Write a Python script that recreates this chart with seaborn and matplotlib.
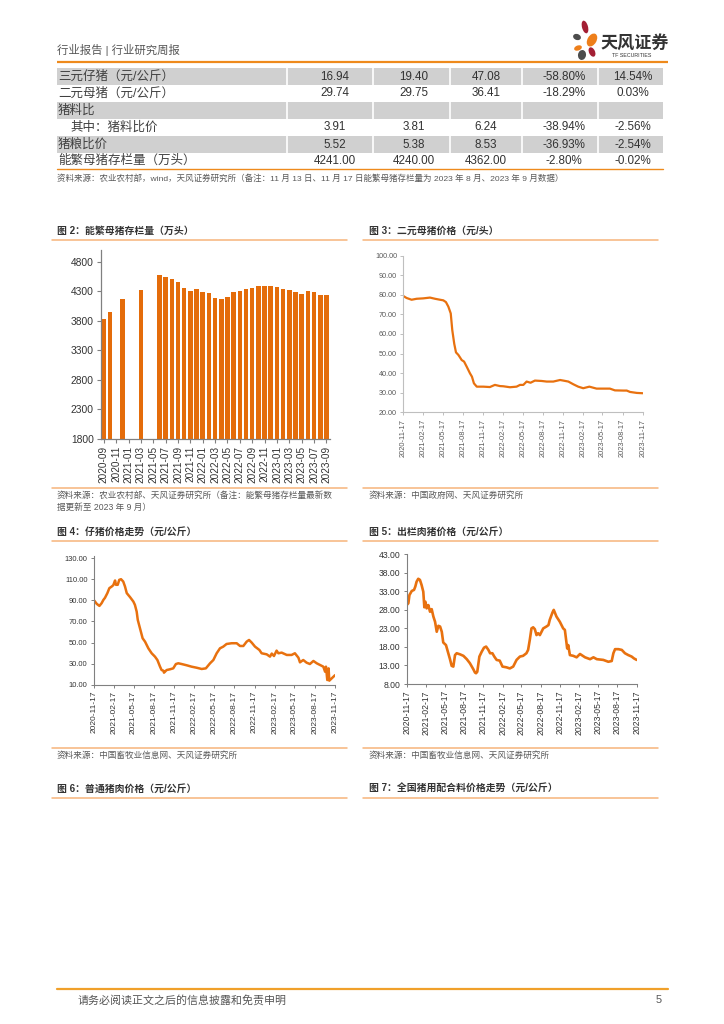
import numpy as np
import pandas as pd
import matplotlib
matplotlib.use('Agg')
import matplotlib.pyplot as plt
import seaborn as sns
from matplotlib.patches import Ellipse, Rectangle

# ---------------- data ----------------
table_labels = ['三元仔猪（元/公斤）', '二元母猪（元/公斤）', '猪料比', '其中：猪料比价', '猪粮比价', '能繁母猪存栏量（万头）']
col_cur = ['16.94', '29.74', '', '3.91', '5.52', '4241.00']
col_prev = ['19.40', '29.75', '', '3.81', '5.38', '4240.00']
col_ly = ['47.08', '36.41', '', '6.24', '8.53', '4362.00']
col_yoy = ['-58.80%', '-18.29%', '', '-38.94%', '-36.93%', '-2.80%']
col_mom = ['14.54%', '0.03%', '', '-2.56%', '-2.54%', '-0.02%']

months = ['2020-09', '2020-10', '2020-11', '2020-12', '2021-01', '2021-02', '2021-03', '2021-04',
          '2021-05', '2021-06', '2021-07', '2021-08', '2021-09', '2021-10', '2021-11', '2021-12',
          '2022-01', '2022-02', '2022-03', '2022-04', '2022-05', '2022-06', '2022-07', '2022-08',
          '2022-09', '2022-10', '2022-11', '2022-12', '2023-01', '2023-02', '2023-03', '2023-04',
          '2023-05', '2023-06', '2023-07', '2023-08', '2023-09']
sow_stock = [3832, 3950, np.nan, 4170, np.nan, np.nan, 4327, np.nan, np.nan, 4573, 4538, 4509,
             4459, 4357, 4306, 4329, 4289, 4272, 4187, 4176, 4199, 4278, 4306, 4334, 4362, 4385,
             4391, 4391, 4363, 4340, 4312, 4283, 4261, 4306, 4278, 4241, 4240]
bar_xlabels = months[::2]
bar_yticks = [1800, 2300, 2800, 3300, 3800, 4300, 4800]

sow_price_dates = ['2020-11-17', '2020-12-02', '2020-12-25', '2021-01-17', '2021-02-16', '2021-03-19',
                   '2021-04-11', '2021-05-04', '2021-05-19', '2021-05-31', '2021-06-11', '2021-06-22',
                   '2021-06-29', '2021-07-08', '2021-07-16', '2021-07-27', '2021-08-11', '2021-08-22',
                   '2021-09-03', '2021-09-18', '2021-09-27', '2021-10-06', '2021-10-19', '2021-11-18',
                   '2021-12-18', '2022-01-10', '2022-02-02', '2022-02-17', '2022-03-20', '2022-04-19',
                   '2022-05-05', '2022-05-20', '2022-06-04', '2022-06-22', '2022-07-12', '2022-08-12',
                   '2022-09-04', '2022-10-04', '2022-11-04', '2022-11-19', '2022-12-12', '2023-01-04',
                   '2023-01-26', '2023-02-18', '2023-03-18', '2023-04-20', '2023-05-21', '2023-06-20',
                   '2023-07-13', '2023-08-21', '2023-09-05', '2023-09-20', '2023-10-21', '2023-11-17']
sow_price = [79.4, 78.4, 77.5, 78.0, 78.2, 78.6, 78.0, 77.5, 77.2, 76.3, 74.0, 70.5, 62.0, 55.0, 50.6,
             49.3, 46.7, 45.9, 43.3, 39.9, 38.2, 34.8, 33.1, 33.1, 32.9, 34.0, 33.4, 33.3, 32.8, 33.1,
             34.0, 34.0, 35.7, 35.1, 36.2, 36.0, 35.7, 35.7, 36.5, 36.2, 35.7, 34.3, 33.1, 32.3, 33.1,
             32.1, 32.1, 32.1, 31.2, 31.1, 31.1, 30.4, 29.9, 29.74]

piglet_dates = ['2020-11-17', '2020-12-01', '2020-12-13', '2020-12-23', '2020-12-31', '2021-01-07',
                '2021-01-18', '2021-01-27', '2021-02-07', '2021-02-14', '2021-02-22', '2021-02-26',
                '2021-03-06', '2021-03-13', '2021-03-21', '2021-03-31', '2021-04-08', '2021-04-16',
                '2021-05-01', '2021-05-16', '2021-05-23', '2021-05-31', '2021-06-05', '2021-06-15',
                '2021-06-27', '2021-07-08', '2021-07-23', '2021-08-07', '2021-08-22', '2021-09-02',
                '2021-09-14', '2021-09-21', '2021-09-29', '2021-10-02', '2021-10-14', '2021-10-29',
                '2021-11-13', '2021-11-25', '2021-12-06', '2021-12-21', '2022-01-13', '2022-02-04',
                '2022-02-27', '2022-03-22', '2022-04-10', '2022-04-29', '2022-05-14', '2022-05-29',
                '2022-06-13', '2022-06-28', '2022-07-13', '2022-08-05', '2022-08-28', '2022-09-12',
                '2022-09-27', '2022-10-12', '2022-10-23', '2022-11-04', '2022-11-19', '2022-12-09',
                '2022-12-19', '2023-01-11', '2023-01-26', '2023-02-03', '2023-02-13', '2023-02-25',
                '2023-03-05', '2023-03-20', '2023-04-12', '2023-05-04', '2023-05-19', '2023-06-04',
                '2023-06-11', '2023-06-26', '2023-07-11', '2023-07-26', '2023-08-11', '2023-08-26',
                '2023-09-10', '2023-09-25', '2023-10-03', '2023-10-07', '2023-10-13', '2023-10-19',
                '2023-10-22', '2023-11-02', '2023-11-17']
piglet_price = [90.4, 86.6, 84.7, 87.3, 90.4, 92.3, 96.8, 101.5, 103.1, 104.4, 108.8, 104.7, 104.7,
                109.4, 110.0, 107.8, 103.1, 96.8, 93.0, 88.8, 85.7, 79.3, 71.4, 63.5, 54.0, 50.8,
                44.5, 39.8, 36.6, 33.4, 27.1, 23.9, 23.3, 21.4, 23.9, 24.6, 25.5, 29.6, 30.3, 29.6,
                28.4, 27.1, 26.1, 24.9, 25.5, 30.3, 33.4, 39.8, 44.5, 46.1, 48.6, 49.3, 49.3, 46.7,
                46.7, 50.8, 52.4, 49.9, 46.1, 42.9, 39.8, 38.8, 36.6, 39.5, 37.2, 42.3, 39.8, 40.4,
                38.2, 38.2, 39.8, 35.6, 31.2, 33.4, 30.9, 29.6, 32.5, 30.3, 28.7, 27.1, 22.3, 27.1,
                14.4, 25.5, 13.8, 16.0, 19.0]

hog_dates = ['2020-11-17', '2020-11-25', '2020-11-30', '2020-12-11', '2020-12-22', '2020-12-28',
             '2021-01-03', '2021-01-11', '2021-01-19', '2021-01-27', '2021-02-04', '2021-02-09',
             '2021-02-14', '2021-02-20', '2021-02-28', '2021-03-08', '2021-03-16', '2021-03-24',
             '2021-04-01', '2021-04-09', '2021-04-17', '2021-04-25', '2021-05-03', '2021-05-10',
             '2021-05-23', '2021-06-03', '2021-06-11', '2021-06-19', '2021-06-27', '2021-07-05',
             '2021-07-13', '2021-07-29', '2021-08-14', '2021-08-30', '2021-09-14', '2021-09-30',
             '2021-10-08', '2021-10-13', '2021-10-19', '2021-10-29', '2021-11-09', '2021-11-20',
             '2021-11-30', '2021-12-11', '2021-12-19', '2021-12-30', '2022-01-08', '2022-01-19',
             '2022-02-03', '2022-02-16', '2022-03-07', '2022-03-23', '2022-04-08', '2022-04-24',
             '2022-05-10', '2022-05-25', '2022-06-10', '2022-06-18', '2022-06-26', '2022-07-04',
             '2022-07-12', '2022-07-20', '2022-07-28', '2022-08-05', '2022-08-13', '2022-08-29',
             '2022-09-13', '2022-09-23', '2022-09-29', '2022-10-12', '2022-10-18', '2022-10-31',
             '2022-11-16', '2022-12-02', '2022-12-10', '2022-12-14', '2022-12-21', '2022-12-26',
             '2023-01-03', '2023-01-19', '2023-02-04', '2023-02-20', '2023-02-28', '2023-03-16',
             '2023-04-09', '2023-04-25', '2023-05-11', '2023-06-11', '2023-07-05', '2023-07-21',
             '2023-07-29', '2023-08-06', '2023-08-22', '2023-09-07', '2023-09-22', '2023-10-08',
             '2023-10-24', '2023-11-04', '2023-11-17']
hog_price = [29.3, 29.8, 32.0, 33.1, 33.4, 34.3, 35.6, 36.4, 36.1, 34.7, 32.9, 28.7, 30.2, 28.4, 29.3,
             27.5, 28.2, 26.2, 24.8, 22.1, 23.7, 23.5, 22.1, 19.2, 18.5, 16.3, 14.7, 12.9, 12.7, 15.8,
             16.3, 16.0, 15.6, 14.7, 13.6, 12.0, 11.1, 10.9, 11.3, 15.4, 16.7, 17.8, 18.1, 17.2, 16.3,
             16.3, 15.4, 14.5, 14.3, 12.7, 12.5, 12.2, 12.7, 14.5, 15.4, 15.6, 16.3, 17.2, 19.9, 23.0,
             23.3, 22.8, 21.2, 21.7, 21.2, 23.0, 23.5, 23.9, 25.3, 27.3, 28.0, 26.2, 24.8, 23.0, 22.6,
             20.8, 17.6, 18.5, 15.8, 15.6, 15.2, 16.1, 15.8, 15.2, 14.7, 15.2, 14.7, 14.5, 14.0, 14.2,
             16.3, 17.4, 17.4, 17.2, 16.3, 15.8, 15.4, 14.9, 14.5]

date_ticks = ['2020-11-17', '2021-02-17', '2021-05-17', '2021-08-17', '2021-11-17', '2022-02-17',
              '2022-05-17', '2022-08-17', '2022-11-17', '2023-02-17', '2023-05-17', '2023-08-17',
              '2023-11-17']
sow_yticks = [20, 30, 40, 50, 60, 70, 80, 90, 100]
piglet_yticks = [10, 30, 50, 70, 90, 110, 130]
hog_yticks = [8, 13, 18, 23, 28, 33, 38, 43]

# ---------------- style ----------------
sns.set_theme(style='white')
plt.rcParams['font.family'] = ['Liberation Sans', 'Noto Sans CJK SC', 'DejaVu Sans']
plt.rcParams['axes.unicode_minus'] = False

W, H = 724, 1024
fig = plt.figure(figsize=(W / 100, H / 100), dpi=100)
fig.patch.set_facecolor('white')

BAR = '#E46C0A'
LINE = '#E8710F'
ORANGE = '#EE8A1C'
PEACH = '#F7B47A'
TXT = '#333333'
GRAY = '#595959'


def add_ax(x0, y0, x1, y1):
    return fig.add_axes([x0 / W, 1 - y1 / H, (x1 - x0) / W, (y1 - y0) / H])


page = fig.add_axes([0, 0, 1, 1])
page.set_xlim(0, W)
page.set_ylim(H, 0)
page.axis('off')

# header
page.text(57, 50, '行业报告 | 行业研究周报', fontsize=8.2, color='#555555', va='center')
page.plot([57, 668], [61.5, 61.5], color=ORANGE, lw=1.6, solid_capstyle='butt')
# logo
petals = [((585, 27), 6, 13, -15, '#A31F34'), ((592, 40), 9, 14, 30, '#EE7F1A'),
          ((577, 37), 8, 6, 20, '#4D4D4D'), ((578, 48), 8, 5, -20, '#EE7F1A'),
          ((582, 55), 8, 10, 10, '#4D4D4D'), ((592, 52), 6, 10, -25, '#A31F34')]
for c, w, h, a, col in petals:
    page.add_patch(Ellipse(c, w, h, angle=a, color=col, lw=0))
page.text(600, 42, '天风证券', fontsize=12.3, color='#333333', va='center', fontweight='bold')
page.text(612, 55.5, 'TF SECURITIES', fontsize=3.8, color='#333333', va='center')

# table
row_y = [76.5, 93.5, 110.5, 127.5, 144.5, 160.5]
col_x = [335, 414, 486, 564, 633]
seps = [287, 373, 450, 522, 598]
for i in (0, 2, 4):
    page.add_patch(Rectangle((57, row_y[i] - 8.5), 663 - 57, 17, color='#D0D0D0', lw=0))
    for s in seps:
        page.plot([s, s], [row_y[i] - 8.5, row_y[i] + 8.5], color='white', lw=1.2)
for i, lab in enumerate(table_labels):
    page.text(70 if i == 3 else 58, row_y[i], lab, fontsize=9.0, color='#404040', va='center')
    for cx, col in zip(col_x, [col_cur, col_prev, col_ly, col_yoy, col_mom]):
        page.text(cx, row_y[i], col[i], fontsize=8.4, color=TXT, va='center', ha='center')
page.plot([57, 663], [168.5, 168.5], color=ORANGE, lw=1.0)
page.text(57, 178.5, '资料来源：农业农村部，wind，天风证券研究所（备注：11 月 13 日、11 月 17 日能繁母猪存栏量为 2023 年 8 月、2023 年 9 月数据）',
          fontsize=6.1, color=GRAY, va='center')

# section titles / rules
def section(x, y, text, x0, x1):
    page.text(x, y, text, fontsize=7.1, color=TXT, va='center', fontweight='bold')
    page.plot([x0, x1], [y + 9, y + 9], color=PEACH, lw=1.1)

section(57, 231, '图 2：能繁母猪存栏量（万头）', 52, 347)
section(369, 231, '图 3：二元母猪价格（元/头）', 363, 658)
section(57, 532, '图 4：仔猪价格走势（元/公斤）', 52, 347)
section(369, 532, '图 5：出栏肉猪价格（元/公斤）', 363, 658)
section(57, 789, '图 6：普通猪肉价格（元/公斤）', 52, 347)
section(369, 789, '图 7：全国猪用配合料价格走势（元/公斤）', 363, 658)

for x0, x1 in ((52, 347), (363, 658)):
    page.plot([x0, x1], [487.5, 487.5], color=PEACH, lw=1.1)
    page.plot([x0, x1], [747.5, 747.5], color=PEACH, lw=1.1)
SRC_FS = 6.2
page.text(57, 495, '资料来源：农业农村部、天风证券研究所（备注：能繁母猪存栏量最新数', fontsize=SRC_FS, color=GRAY, va='center')
page.text(57, 507, '据更新至 2023 年 9 月）', fontsize=SRC_FS, color=GRAY, va='center')
page.text(369, 495, '资料来源：中国政府网、天风证券研究所', fontsize=SRC_FS, color=GRAY, va='center')
page.text(57, 755, '资料来源：中国畜牧业信息网、天风证券研究所', fontsize=SRC_FS, color=GRAY, va='center')
page.text(369, 755, '资料来源：中国畜牧业信息网、天风证券研究所', fontsize=SRC_FS, color=GRAY, va='center')

# footer
page.plot([57, 668], [989, 989], color='#F0A02A', lw=1.6)
page.text(78, 1000, '请务必阅读正文之后的信息披露和免责申明', fontsize=7.9, color='#555555', va='center')
page.text(662, 1000, '5', fontsize=7.9, color='#555555', va='center', ha='right')

# ---------------- figure 2: bars ----------------
ax2 = add_ax(100.7, 249.9, 329.5, 438.7)
df2 = pd.DataFrame({'month': months, 'stock': sow_stock})
sns.barplot(data=df2, x='month', y='stock', order=months, color=BAR, saturation=1,
            width=0.74, errorbar=None, edgecolor=BAR, linewidth=0, ax=ax2)
ax2.set_ylim(1800, 5000)
ax2.set_xlim(-0.5, len(months) - 0.5)
ax2.set_yticks(bar_yticks)
ax2.set_yticklabels([str(v) for v in bar_yticks], fontsize=7.4, color=TXT)
ax2.set_xticks(range(0, len(months), 2))
ax2.set_xticklabels(bar_xlabels, rotation=90, fontsize=7.2, color=TXT)
ax2.set_xlabel('')
ax2.set_ylabel('')
ax2.tick_params(axis='both', length=3, width=0.8, color='#808080', pad=2, direction='out',
                left=True, bottom=True)
for s in ('top', 'right'):
    ax2.spines[s].set_visible(False)
for s in ('left', 'bottom'):
    ax2.spines[s].set_color('#808080')
    ax2.spines[s].set_linewidth(0.9)
ax2.set_facecolor('none')


# ---------------- line charts ----------------
def line_chart(box, dates, vals, yticks, ylim, lw, lab_fs, lab_col, xlab_fs, xlab_col, spine_col):
    ax = add_ax(*box)
    d = pd.DataFrame({'date': pd.to_datetime(dates), 'v': vals})
    sns.lineplot(data=d, x='date', y='v', color=LINE, linewidth=lw, ax=ax)
    ax.set_xlim(pd.Timestamp(date_ticks[0]), pd.Timestamp(date_ticks[-1]))
    ax.set_ylim(*ylim)
    ax.set_yticks(yticks)
    ax.set_yticklabels([f'{v:.2f}' for v in yticks], fontsize=lab_fs, color=lab_col)
    ax.set_xticks(pd.to_datetime(date_ticks))
    ax.set_xticklabels(date_ticks, rotation=90, fontsize=xlab_fs, color=xlab_col)
    ax.set_xlabel('')
    ax.set_ylabel('')
    ax.tick_params(axis='both', length=2.5, width=0.7, color=spine_col, pad=2, direction='out',
                   left=True, bottom=True)
    for s in ('top', 'right'):
        ax.spines[s].set_visible(False)
    for s in ('left', 'bottom'):
        ax.spines[s].set_color(spine_col)
        ax.spines[s].set_linewidth(0.8)
    ax.set_facecolor('none')
    return ax


line_chart((403.3, 255.7, 642.7, 412.3), sow_price_dates, sow_price, sow_yticks, (20, 100),
           1.6, 5.2, GRAY, 5.4, GRAY, '#BFBFBF')
line_chart((93.7, 556.0, 335.0, 684.7), piglet_dates, piglet_price, piglet_yticks, (10, 132),
           1.8, 5.4, TXT, 6.0, TXT, '#808080')
line_chart((406.7, 554.3, 636.7, 684.0), hog_dates, hog_price, hog_yticks, (8, 43),
           1.9, 6.2, TXT, 6.2, TXT, '#808080')

fig.savefig('out.png', dpi=100, facecolor='white')
